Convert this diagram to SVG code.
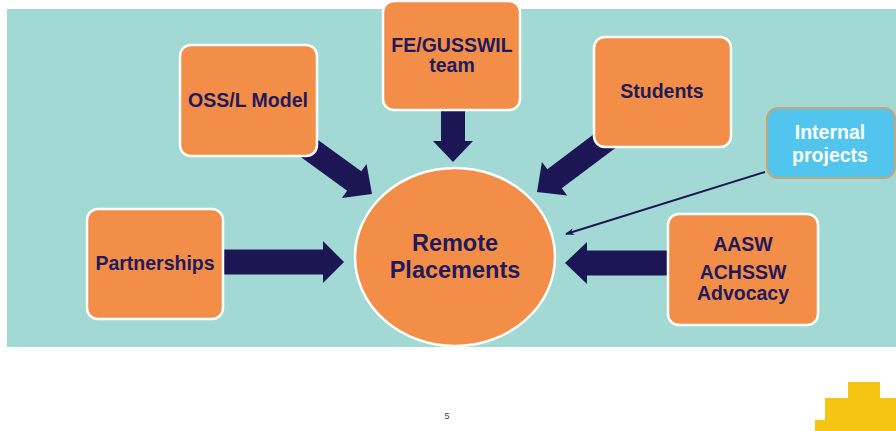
<svg xmlns="http://www.w3.org/2000/svg" width="896" height="431" viewBox="0 0 896 431">
  <defs>
    <style>
      .box { fill: #f38e48; stroke: #ffffff; stroke-width: 2.5; }
      .lbl { font-family: "Liberation Sans", Arial, sans-serif; font-weight: bold; font-size: 19.5px; fill: #22195a; text-anchor: middle; }
      .big { font-size: 23.5px; }
      .wlbl { fill: #ffffff; }
      .fat { fill: #1c1654; }
      .thin { stroke: #1c1654; stroke-width: 2; fill: none; }
    </style>
    <marker id="tip" viewBox="0 0 10 10" refX="9" refY="5" markerWidth="9" markerHeight="9" orient="auto" markerUnits="userSpaceOnUse">
      <path d="M0,1 L10,5 L0,9 L3,5 Z" fill="#1c1654"/>
    </marker>
  </defs>

  <!-- page -->
  <rect x="0" y="0" width="896" height="431" fill="#ffffff"/>
  <rect x="7" y="9" width="889" height="338" fill="#a3d9d5"/>

  <!-- connectors -->
  <g id="connectors">
    <!-- block arrows: tip at origin, pointing along +x -->
    <polygon class="fat" transform="translate(372,194) rotate(36)" points="-95,-12 -22,-12 -22,-21 0,0 -22,21 -22,12 -95,12"/>
    <polygon class="fat" transform="translate(453,162) rotate(90)" points="-70,-12 -21,-12 -21,-20 0,0 -21,20 -21,12 -70,12"/>
    <polygon class="fat" transform="translate(537,192) rotate(143)" points="-95,-12 -22,-12 -22,-21 0,0 -22,21 -22,12 -95,12"/>
    <polygon class="fat" transform="translate(344,262) rotate(0)" points="-125,-12.5 -21,-12.5 -21,-21 0,0 -21,21 -21,12.5 -125,12.5"/>
    <polygon class="fat" transform="translate(565,263) rotate(180)" points="-110,-12.5 -22,-12.5 -22,-21 0,0 -22,21 -22,12.5 -110,12.5"/>
    <line class="thin" x1="765" y1="172" x2="566" y2="234" marker-end="url(#tip)"/>
  </g>

  <g id="oss-model">
    <rect class="box" x="180" y="45" width="137" height="111" rx="11"/>
    <text class="lbl" x="248" y="107">OSS/L Model</text>
  </g>

  <g id="fe-gusswil-team">
    <rect class="box" x="383" y="1" width="137" height="109" rx="11"/>
    <text class="lbl" x="452" y="52">FE/GUSSWIL</text>
    <text class="lbl" x="452" y="72">team</text>
  </g>

  <g id="students">
    <rect class="box" x="594" y="37" width="137" height="110" rx="11"/>
    <text class="lbl" x="662" y="98">Students</text>
  </g>

  <g id="internal-projects">
    <rect x="767" y="108" width="128" height="70" rx="11" fill="#52c5ef" stroke="#c7a47c" stroke-width="2"/>
    <text class="lbl wlbl" x="830" y="139">Internal</text>
    <text class="lbl wlbl" x="830" y="162">projects</text>
  </g>

  <g id="partnerships">
    <rect class="box" x="87" y="209" width="136" height="110" rx="11"/>
    <text class="lbl" x="155" y="270">Partnerships</text>
  </g>

  <g id="remote-placements">
    <ellipse class="box" cx="455" cy="257" rx="100" ry="89"/>
    <text class="lbl big" x="455" y="251">Remote</text>
    <text class="lbl big" x="455" y="278">Placements</text>
  </g>

  <g id="advocacy">
    <rect class="box" x="668" y="214" width="150" height="111" rx="11"/>
    <text class="lbl" x="743" y="251">AASW</text>
    <text class="lbl" x="743" y="279">ACHSSW</text>
    <text class="lbl" x="743" y="300">Advocacy</text>
  </g>

  <!-- footer -->
  <text x="447" y="419" font-family="Liberation Sans, Arial, sans-serif" font-size="9" fill="#444444" text-anchor="middle">5</text>
  <polygon points="848,382 880,382 880,398 896,398 896,431 815,431 815,420 825,420 825,398 848,398" fill="#f6c514"/>
</svg>
